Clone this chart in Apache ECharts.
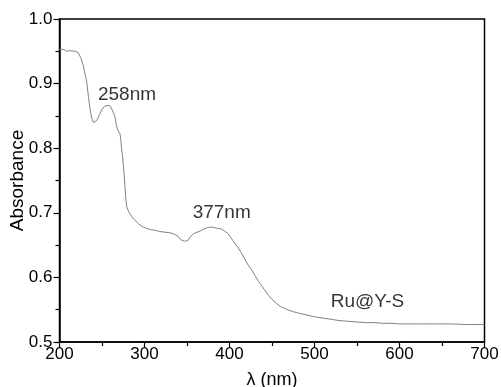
<!DOCTYPE html>
<html>
<head>
<meta charset="utf-8">
<script src="https://cdn.jsdelivr.net/npm/echarts@6/dist/echarts.min.js"></script>
<style>html,body{margin:0;padding:0;background:#fff}#c{width:501px;height:387px}</style>
</head>
<body>
<div id="c"></div>
<script>
// wavelength (nm)
var wavelength = [200,205,208,212,218,222,225,228,230,232,234,236,238,240,242,244,247,250,253,256,259,261,263,265,267,269,271,272,273,274,275,276,277,278,279,281,283,285,289,293,297,302,307,312,318,324,330,335,340,343,347,351,354,358,362,366,370,374,378,382,386,390,394,398,402,406,410,414,418,422,426,430,434,438,442,446,450,455,460,465,470,475,480,490,500,510,520,530,540,550,560,570,580,590,600,620,640,660,680,700];
// absorbance
var absorbance = [0.953,0.953,0.950,0.951,0.950,0.948,0.940,0.928,0.915,0.903,0.880,0.860,0.846,0.840,0.839,0.843,0.852,0.860,0.865,0.866,0.866,0.862,0.859,0.850,0.835,0.827,0.823,0.815,0.800,0.790,0.775,0.760,0.740,0.722,0.710,0.703,0.698,0.694,0.688,0.683,0.679,0.676,0.674,0.673,0.671,0.670,0.669,0.667,0.663,0.658,0.656,0.657,0.663,0.668,0.670,0.672,0.675,0.677,0.678,0.677,0.676,0.675,0.672,0.668,0.661,0.653,0.646,0.638,0.628,0.619,0.612,0.603,0.594,0.587,0.579,0.572,0.566,0.560,0.555,0.552,0.549,0.547,0.545,0.542,0.539,0.537,0.535,0.533,0.532,0.531,0.530,0.530,0.529,0.529,0.528,0.528,0.528,0.528,0.527,0.527];
// annotations: text, x (nm), y (abs)
var annText = ["258nm","377nm","Ru@Y-S"];
var annX = [279.4, 390.8, 562.4];
var annY = [0.883, 0.700, 0.562];
var xTicks = [200,300,400,500,600,700];
var yTicks = [0.5,0.6,0.7,0.8,0.9,1.0];

var lineData = wavelength.map(function(w,i){return [w, absorbance[i]];});
var annData = annText.map(function(t,i){return {name:t, value:[annX[i], annY[i]]};});
var FONT = '"Liberation Sans", Arial, sans-serif';

var chart = echarts.init(document.getElementById('c'), null, {renderer:'canvas'});
chart.setOption({
  animation:false,
  backgroundColor:'#fff',
  grid:{left:59.5, right:16.5, top:19, bottom:45, containLabel:false, outerBoundsMode:'none', show:true, borderColor:'#000', borderWidth:1.5},
  xAxis:{
    type:'value', min:xTicks[0], max:xTicks[xTicks.length-1], interval:100,
    name:'λ (nm)', nameLocation:'middle', nameGap:29, nameMoveOverlap:false,
    nameTextStyle:{fontFamily:FONT, fontSize:18, color:'#000'},
    axisLine:{show:true, lineStyle:{color:'#000', width:1.5}},
    axisTick:{show:true, inside:false, length:6, lineStyle:{color:'#000', width:1.2}},
    minorTick:{show:true, splitNumber:2, length:4, lineStyle:{color:'#000', width:1.2}},
    splitLine:{show:false},
    axisLabel:{margin:4, fontFamily:FONT, fontSize:17, color:'#000', hideOverlap:false}
  },
  yAxis:{
    type:'value', min:yTicks[0], max:yTicks[yTicks.length-1], interval:0.1,
    name:'Absorbance', nameLocation:'middle', nameGap:32, nameRotate:90, nameMoveOverlap:false,
    nameTextStyle:{fontFamily:FONT, fontSize:19, color:'#000'},
    axisLine:{show:true, lineStyle:{color:'#000', width:1.5}},
    axisTick:{show:true, inside:false, length:6, lineStyle:{color:'#000', width:1.2}},
    minorTick:{show:true, splitNumber:2, length:4, lineStyle:{color:'#000', width:1.2}},
    splitLine:{show:false},
    axisLabel:{margin:7, fontFamily:FONT, fontSize:17, color:'#000', formatter:function(v){return v.toFixed(1);}}
  },
  series:[
    {type:'line', data:lineData, showSymbol:false, symbol:'none', lineStyle:{color:'#808080', width:1}, z:2},
    {type:'scatter', data:annData, symbolSize:0, silent:true,
     label:{show:true, position:'inside', align:'center', verticalAlign:'middle', formatter:function(p){return p.name;}, fontFamily:FONT, fontSize:19, color:'#000'}}
  ]
});
</script>
</body>
</html>
